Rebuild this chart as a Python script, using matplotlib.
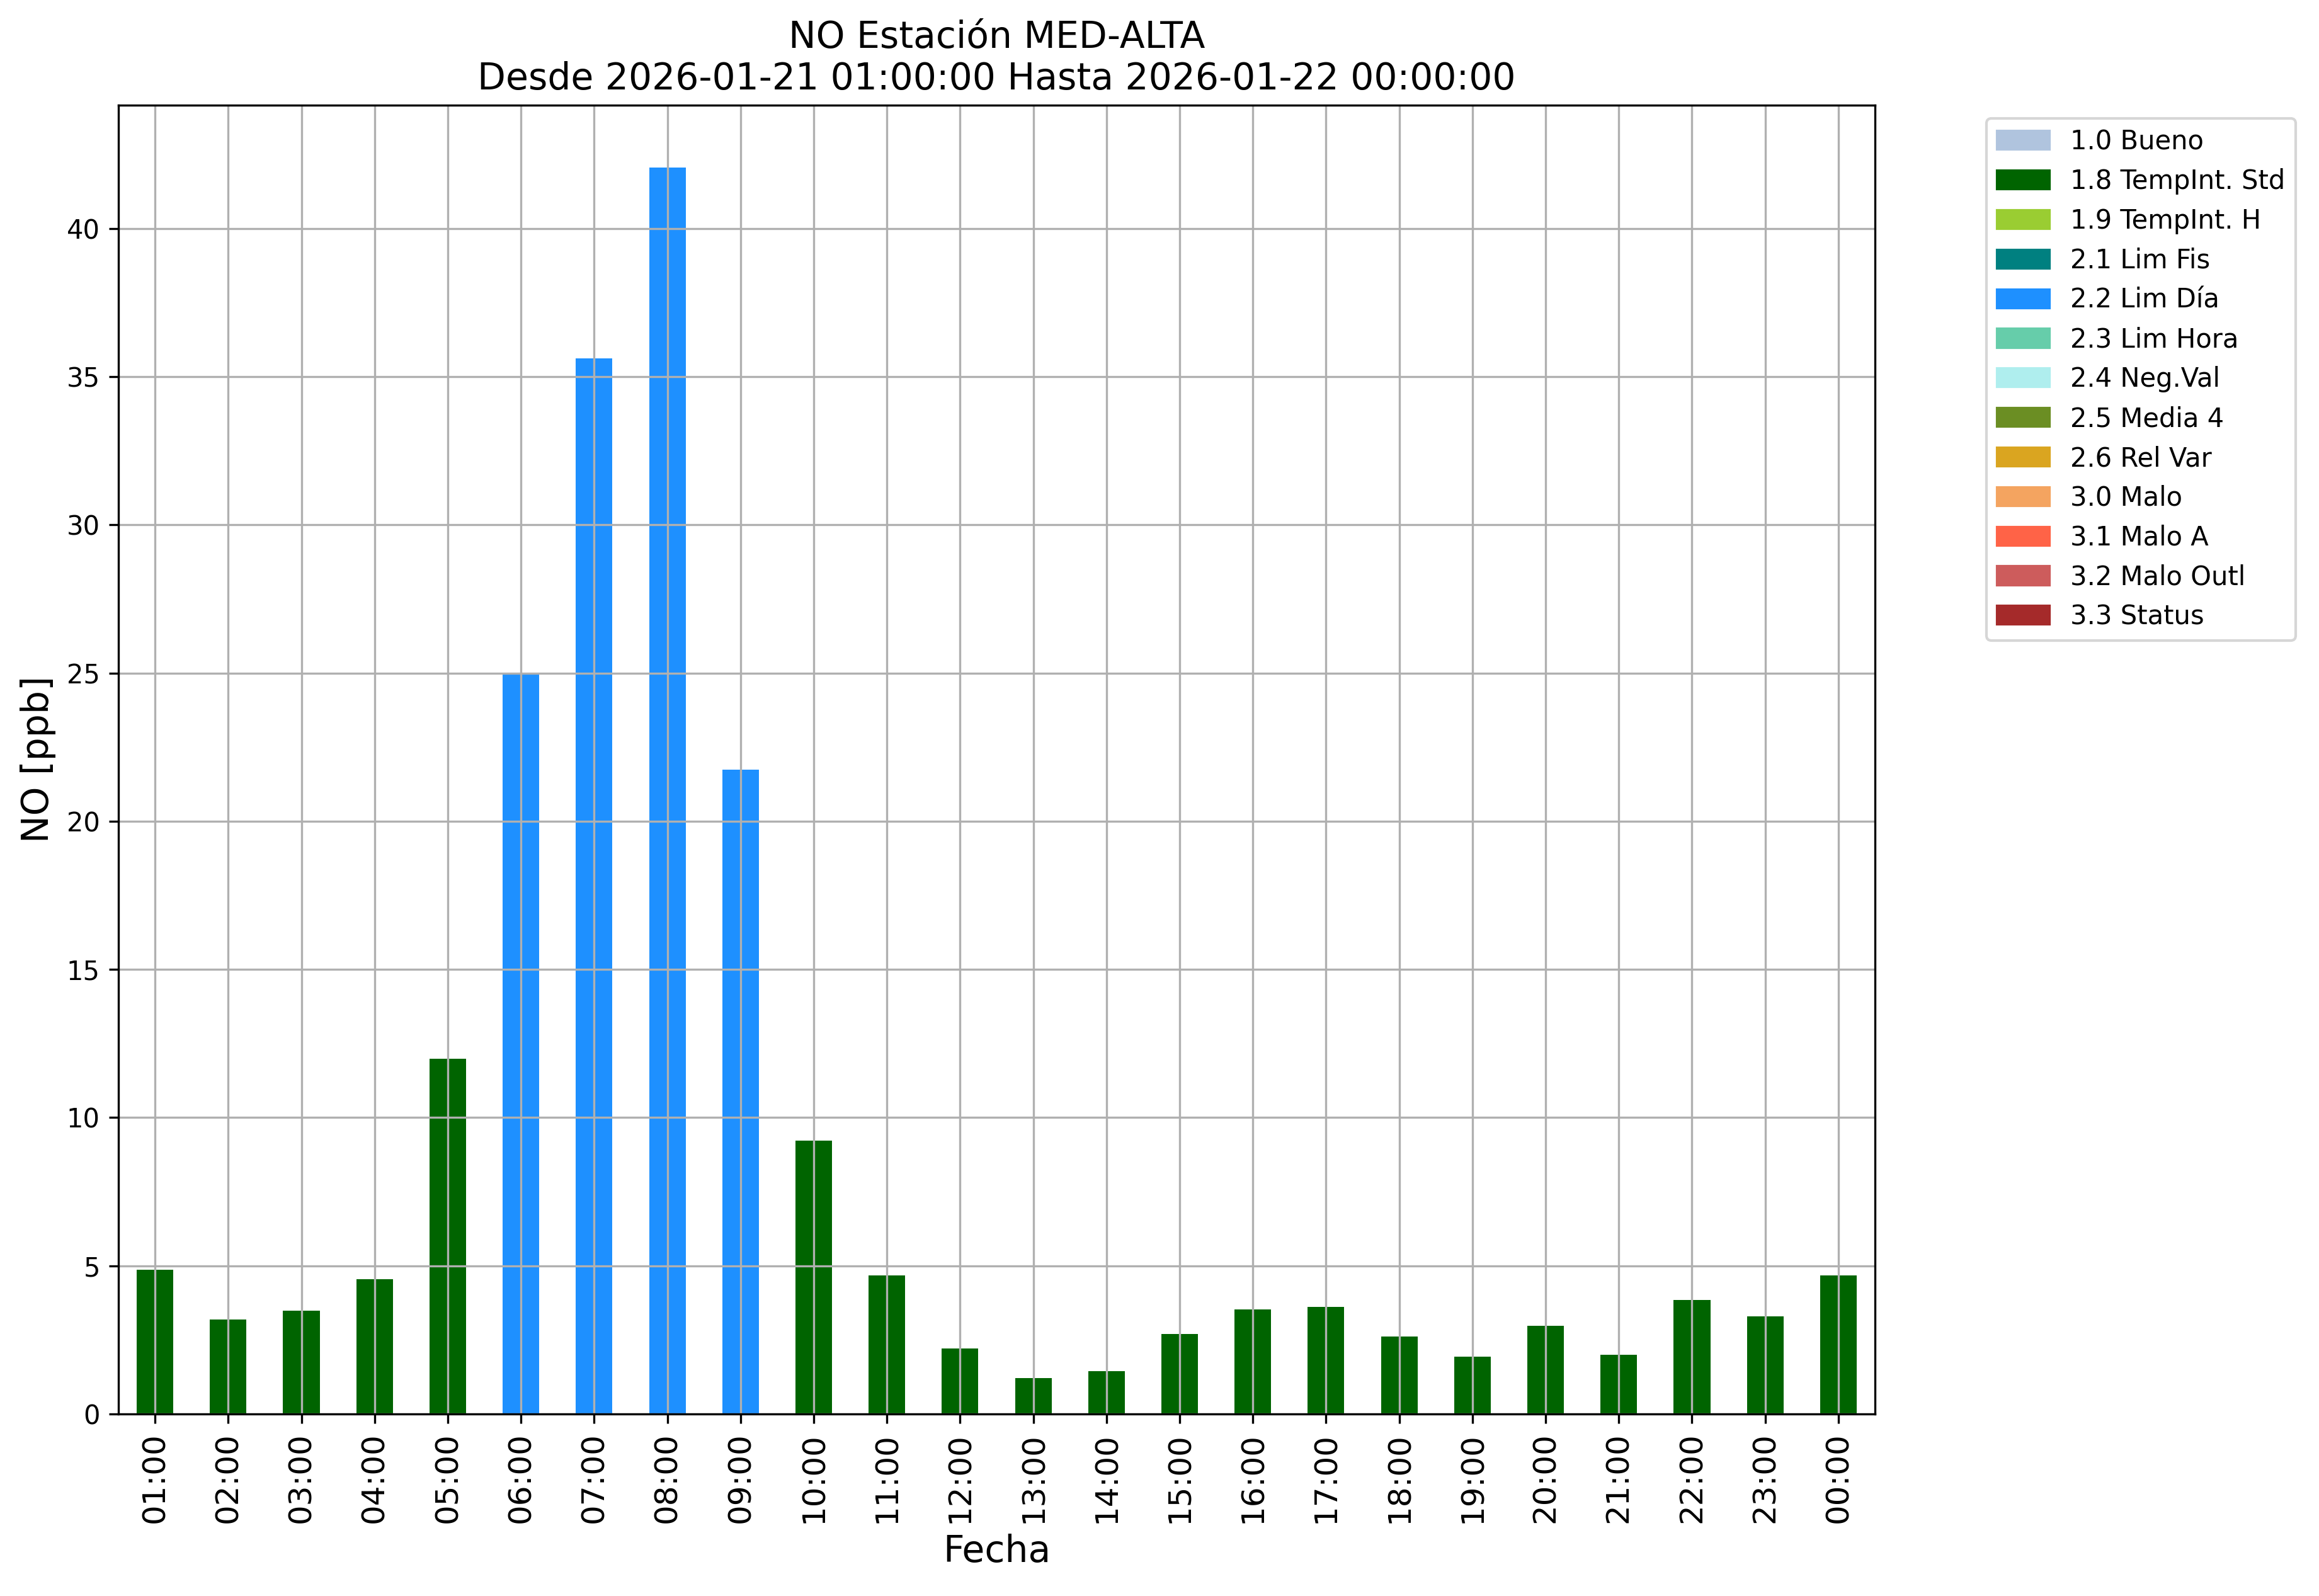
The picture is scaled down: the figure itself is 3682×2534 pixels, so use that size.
import matplotlib
matplotlib.use("Agg")
import matplotlib.pyplot as plt
import matplotlib.patches as mpatches
import numpy as np

hours = ['01:00', '02:00', '03:00', '04:00', '05:00', '06:00', '07:00', '08:00',
         '09:00', '10:00', '11:00', '12:00', '13:00', '14:00', '15:00', '16:00',
         '17:00', '18:00', '19:00', '20:00', '21:00', '22:00', '23:00', '00:00']
no_ppb = [4.86, 3.18, 3.49, 4.54, 11.98, 24.97, 35.62, 42.06,
          21.74, 9.22, 4.68, 2.20, 1.21, 1.45, 2.69, 3.52,
          3.62, 2.62, 1.94, 2.98, 2.00, 3.85, 3.30, 4.67]
flags = ['1.8', '1.8', '1.8', '1.8', '1.8', '2.2', '2.2', '2.2',
         '2.2', '1.8', '1.8', '1.8', '1.8', '1.8', '1.8', '1.8',
         '1.8', '1.8', '1.8', '1.8', '1.8', '1.8', '1.8', '1.8']

flag_codes = ['1.0', '1.8', '1.9', '2.1', '2.2', '2.3', '2.4', '2.5', '2.6',
              '3.0', '3.1', '3.2', '3.3']
flag_names = ['1.0 Bueno', '1.8 TempInt. Std', '1.9 TempInt. H', '2.1 Lim Fis',
              '2.2 Lim Día', '2.3 Lim Hora', '2.4 Neg.Val', '2.5 Media 4',
              '2.6 Rel Var', '3.0 Malo', '3.1 Malo A', '3.2 Malo Outl', '3.3 Status']
flag_colors = ['lightsteelblue', 'darkgreen', 'yellowgreen', 'teal', 'dodgerblue',
               'mediumaquamarine', 'paleturquoise', 'olivedrab', 'goldenrod',
               'sandybrown', 'tomato', 'indianred', 'brown']

color_map = dict(zip(flag_codes, flag_colors))
bar_colors = [color_map[f] for f in flags]

fig = plt.figure(figsize=(3682 / 300, 2534 / 300), dpi=300)
ax = fig.add_axes([188 / 3682, 1 - 2245 / 2534, (2977 - 188) / 3682, (2245 - 167) / 2534])

x = np.arange(len(hours))
ax.bar(x, no_ppb, width=0.5, color=bar_colors)
ax.set_xlim(-0.5, len(hours) - 0.5)
ax.set_ylim(0, max(no_ppb) * 1.05)
ax.set_xticks(x)
ax.set_xticklabels(hours, rotation=90, fontsize=12)
ax.tick_params(axis='y', labelsize=10)
ax.grid(True)

ax.set_xlabel('Fecha', fontsize=14)
ax.set_ylabel('NO [ppb]', fontsize=14)
ax.set_title('NO Estación MED-ALTA\nDesde 2026-01-21 01:00:00 Hasta 2026-01-22 00:00:00',
             fontsize=14)

handles = [mpatches.Patch(color=c, label=n) for c, n in zip(flag_colors, flag_names)]
ax.legend(handles=handles, loc='upper left', bbox_to_anchor=(1.0635, 0.99),
          borderaxespad=0, fontsize=10)

fig.savefig('out.png', dpi=300)
